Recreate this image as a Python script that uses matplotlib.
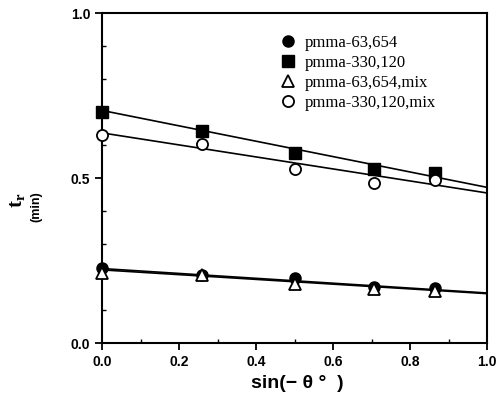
import matplotlib
matplotlib.use("Agg")
import matplotlib.pyplot as plt
import numpy as np
from matplotlib.ticker import MultipleLocator

# data
x = [0.0, 0.259, 0.5, 0.707, 0.866]
pmma63 = [0.228, 0.205, 0.196, 0.169, 0.166]
pmma330 = [0.699, 0.644, 0.577, 0.529, 0.516]
pmma63_mix = [0.214, 0.205, 0.178, 0.164, 0.158]
pmma330_mix = [0.630, 0.603, 0.527, 0.486, 0.494]
labels = ["pmma-63,654", "pmma-330,120", "pmma-63,654,mix", "pmma-330,120,mix"]
# fitted lines: values at x=0 and x=1
fit_x = [0.0, 1.0]
fit63 = [0.226, 0.152]
fit330 = [0.705, 0.472]
fit63_mix = [0.222, 0.150]
fit330_mix = [0.637, 0.455]

fig = plt.figure(figsize=(4.98, 4.09), dpi=100)
ax = fig.add_axes([0.205, 0.161, 0.773, 0.807])

for fy in (fit63, fit330, fit63_mix, fit330_mix):
    ax.plot(fit_x, fy, color="black", lw=1.2, zorder=2)

ms = 8
ax.plot(x, pmma63, "o", color="black", ms=ms, zorder=3, label=labels[0], clip_on=False)
ax.plot(x, pmma330, "s", color="black", ms=ms, zorder=3, label=labels[1], clip_on=False)
ax.plot(x, pmma63_mix, "^", mfc="white", mec="black", mew=1.3, ms=ms, zorder=4,
        label=labels[2], clip_on=False)
ax.plot(x, pmma330_mix, "o", mfc="white", mec="black", mew=1.3, ms=ms, zorder=4,
        label=labels[3], clip_on=False)

ax.set_xlim(0, 1)
ax.set_ylim(0, 1)
ax.xaxis.set_major_locator(MultipleLocator(0.2))
ax.xaxis.set_minor_locator(MultipleLocator(0.1))
ax.yaxis.set_major_locator(MultipleLocator(0.5))
ax.yaxis.set_minor_locator(MultipleLocator(0.1))
ax.tick_params(which="major", direction="out", length=5, width=1.3)
ax.tick_params(which="minor", direction="in", length=3, width=1.0)
ax.xaxis.set_major_formatter(matplotlib.ticker.FormatStrFormatter("%.1f"))
ax.yaxis.set_major_formatter(matplotlib.ticker.FormatStrFormatter("%.1f"))
for lab in ax.get_xticklabels() + ax.get_yticklabels():
    lab.set_fontfamily("Liberation Sans")
    lab.set_fontweight("bold")
    lab.set_fontsize(10)
for s in ax.spines.values():
    s.set_linewidth(1.5)

fig.text(297 / 498, 1 - 383 / 409, "sin(\u2212 \u03b8 \u00b0  )", ha="center", va="center",
         fontfamily="Liberation Sans", fontweight="bold", fontsize=14)

fig.text(0.036, 0.51, "t$_\\mathregular{r}$", rotation=90, ha="center", va="center",
         fontfamily="Liberation Serif", fontweight="bold", fontsize=15)
fig.text(0.074, 0.495, "(min)", rotation=90, ha="center", va="center",
         fontfamily="Liberation Sans", fontweight="bold", fontsize=9)

leg = ax.legend(loc="upper left", bbox_to_anchor=(0.445, 0.955), frameon=False,
                prop={"family": "Liberation Serif", "size": 12},
                handletextpad=0.5, labelspacing=0.25, handlelength=1.0,
                borderaxespad=0)

fig.savefig("out.png", dpi=100)
